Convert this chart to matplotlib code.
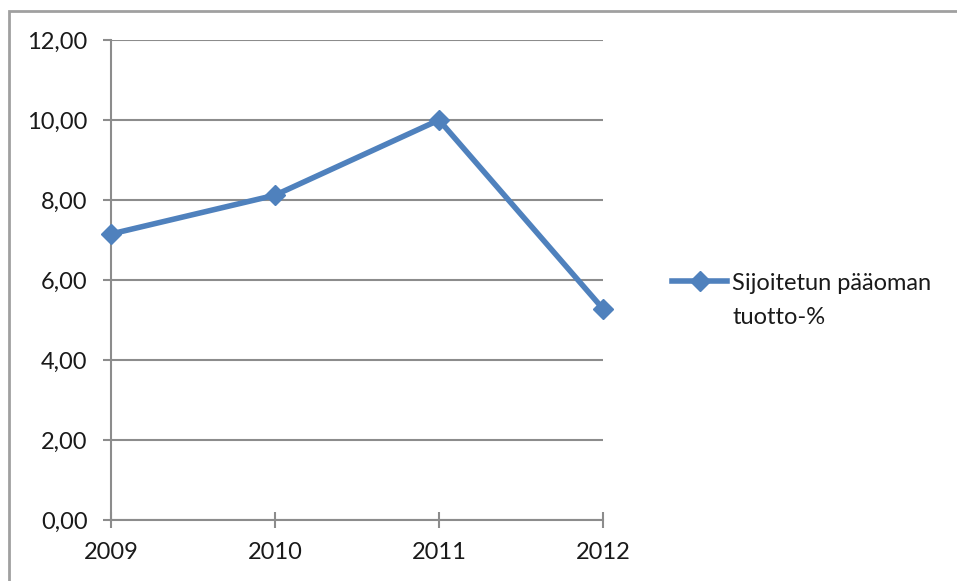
import matplotlib.pyplot as plt
from matplotlib.patches import Rectangle

years = ["2009", "2010", "2011", "2012"]
tuotto = [7.15, 8.12, 10.0, 5.28]
yticks = [0, 2, 4, 6, 8, 10, 12]
series_name = ["Sijoitetun pääoman", "tuotto-%"]

plt.rcParams['font.family'] = ['Lato', 'DejaVu Sans']

fig = plt.figure(figsize=(9.57, 5.81), dpi=100)
W, H = 957, 581

# outer chart frame, runs off the right and bottom edges
fig.patches.append(Rectangle((9 / W, -0.1), 1.2, 1 - 11 / H + 0.1,
                             transform=fig.transFigure, fill=False,
                             edgecolor="#a0a0a0", linewidth=2))

ax = fig.add_axes([111 / W, 1 - 520 / H, (603 - 111) / W, (520 - 40) / H])
x = list(range(len(years)))
line, = ax.plot(x, tuotto, color="#4f81bd", linewidth=4, marker="D",
                markersize=10, solid_joinstyle="miter", clip_on=False,
                zorder=5)

ax.set_xlim(0, len(years) - 1)
ax.set_ylim(0, 12)
ax.set_yticks(yticks)
ax.set_yticklabels([f"{v:.2f}".replace(".", ",") for v in yticks])
ax.set_xticks(x)
ax.set_xticklabels(years)

ax.grid(axis="y", color="#8c8c8c", linewidth=1.5)
ax.set_axisbelow(True)
for s in ["top", "right"]:
    ax.spines[s].set_visible(False)
for s in ["left", "bottom"]:
    ax.spines[s].set_color("#8c8c8c")
    ax.spines[s].set_linewidth(1.5)
ax.tick_params(axis="y", length=6, width=1.5, color="#8c8c8c", pad=11,
               labelsize=17, labelcolor="#1a1a1a")
ax.tick_params(axis="x", direction="inout", length=12, width=1.5,
               color="#8c8c8c", pad=10, labelsize=17, labelcolor="#1a1a1a")

# legend: handle sits on the first line, the second line wraps below it
leg = fig.legend([line], [series_name[0]], loc="center left",
                 bbox_to_anchor=(672 / W, 1 - 283 / H), frameon=False,
                 fontsize=17, handlelength=2.35, handletextpad=0.2,
                 borderpad=0, borderaxespad=0)
leg.get_texts()[0].set_color("#1a1a1a")
fig.canvas.draw()
bb = leg.get_texts()[0].get_window_extent()
fig.text(bb.x0 / W, (bb.y0 - 35) / H, series_name[1], fontsize=17,
         color="#1a1a1a", ha="left", va="bottom")

fig.savefig("out.png", dpi=100)
